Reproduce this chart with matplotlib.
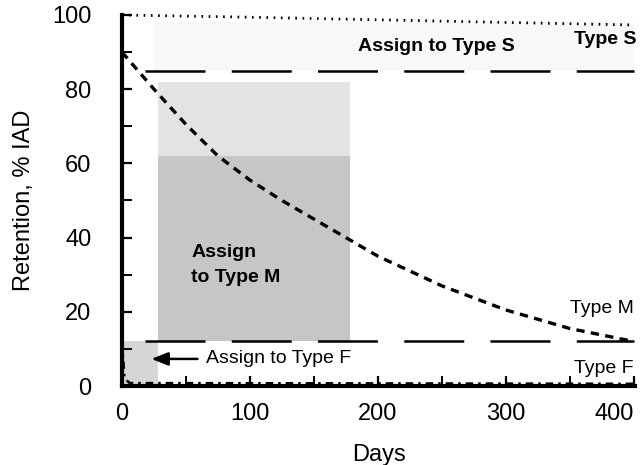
import numpy as np
import matplotlib
matplotlib.use("Agg")
import matplotlib.pyplot as plt
from matplotlib.ticker import MultipleLocator

plt.rcParams['font.family'] = ['Liberation Sans', 'DejaVu Sans']

# retention curves (% IAD)
days_s = [0, 100, 200, 300, 400]
ret_s = [100, 99.4, 98.7, 98.0, 97.3]

days_m = [0, 25, 50, 75, 100, 125, 150, 175, 200, 250, 300, 350, 400]
ret_m = [90, 80, 70.5, 62, 55.5, 50, 45, 40, 35, 27, 20.5, 15.5, 12]

days_f = [0, 2, 6, 400]
ret_f = [12, 2, 0.8, 0.6]

# assignment thresholds
s_threshold = 85
f_threshold = 12
thr_days = [18, 400]

# shaded zones
m_zone_days = [28, 178]
m_zone_dense = [f_threshold, 62]
m_zone_light = [62, 82]
f_zone_days = [0, 28]
s_zone_days = [25, 400]

fig = plt.figure(figsize=(6.4, 4.65), dpi=100)
ax = fig.add_axes([122 / 640, 79 / 465, 513 / 640, 371 / 465])

# shading
ax.fill_between(m_zone_days, m_zone_light[0], m_zone_light[1], color='#e3e3e3', lw=0, zorder=1)
ax.fill_between(m_zone_days, m_zone_dense[0], m_zone_dense[1], color='#c6c6c6', lw=0, zorder=1)
ax.fill_between(f_zone_days, 0, f_threshold, color='#d6d6d6', lw=0, zorder=1)
ax.fill_between(s_zone_days, s_threshold, 98, color='#f8f8f8', lw=0, zorder=1)

# threshold lines
ax.plot(thr_days, [s_threshold] * 2, color='black', lw=1.8, dashes=(24, 10.5), zorder=2)
ax.plot(thr_days, [f_threshold] * 2, color='black', lw=1.8, dashes=(24, 10.5), zorder=2)

# curves
ax.plot(days_s, ret_s, color='black', lw=2.0, dashes=(0.6, 2.0), clip_on=False, zorder=3)
ax.plot(days_m, ret_m, color='black', lw=2.4, dashes=(2.5, 1.9), zorder=3)
ax.plot(days_f, ret_f, color='black', lw=1.8, dashes=(3, 2, 1, 2), zorder=3)

# labels
ax.text(246, 91.5, 'Assign to Type S', fontsize=14, fontweight='bold', ha='center', va='center')
ax.text(402, 93.3, 'Type S', fontsize=14, fontweight='bold', ha='right', va='center')
ax.text(54, 36, 'Assign', fontsize=14, fontweight='bold', ha='left', va='center')
ax.text(54, 29.3, 'to Type M', fontsize=14, fontweight='bold', ha='left', va='center')
ax.text(400, 21, 'Type M', fontsize=14, ha='right', va='center')
ax.text(400, 4.6, 'Type F', fontsize=14, ha='right', va='center')
ax.text(66, 7.3, 'Assign to Type F', fontsize=14, ha='left', va='center')
ax.annotate('', xy=(23, 7.3), xytext=(59, 7.3),
            arrowprops=dict(arrowstyle='-|>,head_length=1.0,head_width=0.4',
                            color='black', lw=1.8, shrinkA=0, shrinkB=0))

ax.set_xlim(0, 401)
ax.set_ylim(0, 100)
ax.spines['top'].set_visible(False)
ax.spines['right'].set_visible(False)
ax.spines['left'].set_linewidth(3)
ax.spines['bottom'].set_linewidth(3)

ax.xaxis.set_major_locator(MultipleLocator(100))
ax.xaxis.set_minor_locator(MultipleLocator(50))
ax.yaxis.set_major_locator(MultipleLocator(20))
ax.yaxis.set_minor_locator(MultipleLocator(10))
ax.tick_params(which='major', direction='in', length=7, width=1.6, labelsize=17)
ax.tick_params(which='minor', direction='in', length=7, width=1.4)
ax.tick_params(axis='x', which='major', pad=12)
ax.tick_params(axis='y', which='major', pad=22)

fig.canvas.draw()
ax.get_xticklabels()[-1].set_horizontalalignment('right')
for lab in ax.get_xticklabels():
    if lab.get_text() == '400':
        lab.set_horizontalalignment('right')

ax.set_xlabel('Days', fontsize=17, labelpad=14)
ax.set_ylabel('Retention, % IAD', fontsize=17, labelpad=12)

fig.savefig('out.png', dpi=100)
